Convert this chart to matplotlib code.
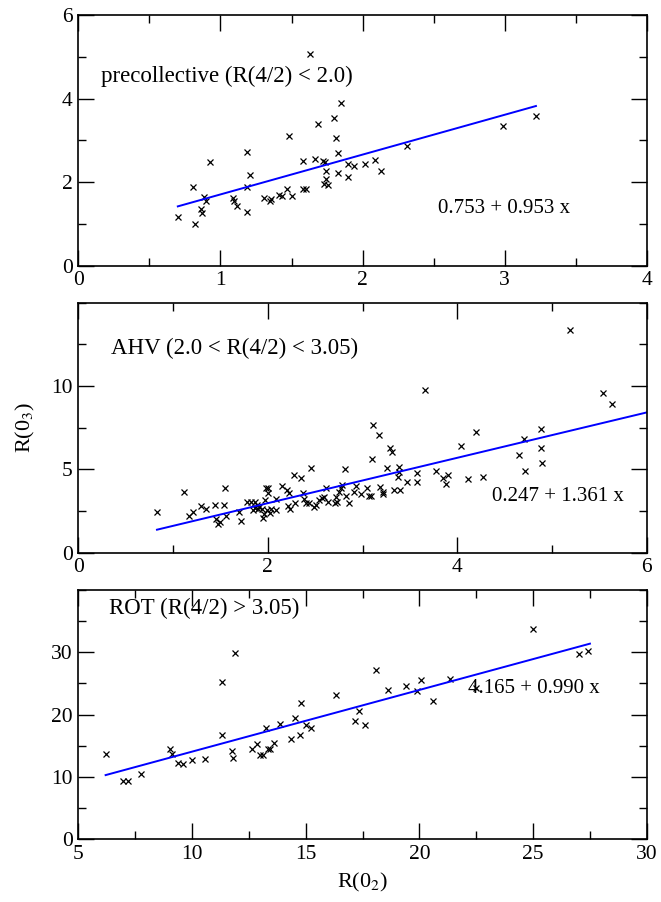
import numpy as np
import matplotlib
matplotlib.use('Agg')
import matplotlib.pyplot as plt
from matplotlib.ticker import MultipleLocator, FixedLocator

plt.rcParams['font.family'] = ['Liberation Serif', 'DejaVu Serif']
plt.rcParams['mathtext.fontset'] = 'stix'

# precollective (R(4/2) < 2.0)
pre_x = [0.698, 0.808, 0.820, 0.86, 0.871, 0.883, 0.90, 0.93, 1.089, 1.096, 1.119,
         1.19, 1.19, 1.19, 1.208, 1.31, 1.347, 1.358, 1.41, 1.43, 1.468, 1.48, 1.50,
         1.58, 1.58, 1.60, 1.628, 1.667, 1.686, 1.72, 1.74, 1.74, 1.733, 1.728, 1.756,
         1.796, 1.815, 1.83, 1.83, 1.85, 1.90, 1.90, 1.937, 2.016, 2.087, 2.13, 2.314,
         2.99, 3.218]
pre_y = [1.17, 1.89, 1.00, 1.35, 1.25, 1.64, 1.54, 2.49, 1.63, 1.54, 1.44,
         2.73, 1.89, 1.28, 2.16, 1.63, 1.56, 1.59, 1.70, 1.68, 1.84, 3.10, 1.66,
         2.51, 1.83, 1.84, 5.07, 2.55, 3.38, 2.50, 2.26, 2.08, 2.48, 1.96, 1.92,
         3.54, 3.06, 2.69, 2.23, 3.90, 2.43, 2.13, 2.39, 2.43, 2.53, 2.26, 2.87,
         3.34, 3.58]

# AHV (2.0 < R(4/2) < 3.05)
ahv_x = [0.828, 1.112, 1.165, 1.207, 1.29, 1.344, 1.446, 1.456, 1.477, 1.50, 1.533,
         1.55, 1.56, 1.70, 1.712, 1.782, 1.825, 1.842, 1.86, 1.867, 1.884, 1.898,
         1.912, 1.94, 1.947, 1.958, 1.975, 1.982, 2.004, 2.007, 1.99, 2.018, 2.035,
         2.088, 2.09, 2.147, 2.20, 2.228, 2.218, 2.235, 2.284, 2.277, 2.35, 2.368,
         2.38, 2.40, 2.43, 2.453, 2.484, 2.51, 2.544, 2.568, 2.593, 2.614, 2.635,
         2.712, 2.723, 2.733, 2.747, 2.768, 2.782, 2.81, 2.825, 2.86, 2.912, 2.93,
         2.982, 3.046, 3.063, 3.088, 3.099, 3.113, 3.177, 3.184, 3.212, 3.219, 3.254,
         3.293, 3.311, 3.336, 3.382, 3.382, 3.378, 3.396, 3.47, 3.572, 3.572, 3.664,
         3.77, 3.848, 3.883, 3.90, 4.035, 4.113, 4.194, 4.272, 4.65, 4.70, 4.714,
         4.883, 4.883, 4.897, 5.187, 5.537, 5.629]
ahv_y = [2.44, 3.64, 2.22, 2.42, 2.80, 2.60, 2.88, 2.02, 1.70, 1.82, 2.88,
         3.90, 2.20, 2.42, 1.88, 3.06, 3.02, 2.58, 3.06, 2.70, 2.88, 2.64,
         2.76, 2.64, 2.08, 2.30, 3.16, 3.88, 3.88, 3.56, 2.56, 2.36, 2.60,
         2.56, 3.24, 4.02, 3.76, 3.56, 2.80, 2.62, 2.96, 4.66, 4.50, 3.56,
         3.20, 3.00, 3.00, 5.10, 2.72, 2.84, 3.16, 3.26, 3.36, 3.86, 3.02,
         3.00, 3.32, 3.04, 3.62, 3.88, 4.06, 5.02, 3.40, 3.00, 3.66, 4.02,
         3.52, 3.90, 3.42, 3.40, 5.64, 7.68, 7.06, 3.96, 3.62, 3.52, 5.10,
         6.26, 6.06, 3.76, 5.16, 4.86, 4.52, 3.76, 4.26, 4.80, 4.24, 9.76,
         4.90, 4.50, 4.12, 4.66, 6.42, 4.40, 7.22, 4.56, 5.86, 6.80, 4.90,
         7.40, 6.30, 5.40, 13.34, 9.60, 8.90]

# ROT (R(4/2) > 3.05)
rot_x = [6.20, 6.98, 7.20, 7.74, 9.01, 9.14, 9.39, 9.61, 10.02, 10.56, 11.33, 11.33,
         11.78, 11.79, 11.91, 12.64, 12.85, 13.01, 13.13, 13.24, 13.35, 13.42, 13.61,
         13.86, 14.37, 14.52, 14.74, 14.79, 15.03, 15.23, 16.32, 17.15, 17.34, 17.60,
         18.09, 18.60, 19.41, 19.90, 20.07, 20.59, 21.33, 22.50, 24.98, 27.03, 27.42]
rot_y = [13.65, 9.42, 9.31, 10.55, 14.51, 13.70, 12.21, 12.15, 12.79, 12.90, 25.16, 16.81,
         14.19, 13.06, 29.87, 14.56, 15.36, 13.54, 13.54, 17.83, 14.56, 14.45, 15.47,
         18.47, 16.17, 19.49, 16.81, 21.84, 18.31, 17.83, 23.23, 19.06, 20.61, 18.31,
         27.19, 23.98, 24.63, 23.72, 25.48, 22.22, 25.75, 24.25, 33.78, 29.66, 30.14]

fit_a = [0.753, 0.247, 4.165]
fit_b = [0.953, 1.361, 0.990]
fit_range = [(0.70, 3.22), (0.83, 6.0), (6.2, 27.5)]

titles = ['precollective (R(4/2) < 2.0)', 'AHV (2.0 < R(4/2) < 3.05)', 'ROT (R(4/2) > 3.05)']
title_pos = [(0.16, 4.54), (0.34, 12.26), (6.35, 37.1)]
eq_pos = [(2.53, 1.38), (4.37, 3.36), (22.15, 24.2)]

xlims = [(0, 4), (0, 6), (5, 30)]
ylims = [(0, 6), (0, 15), (0, 40)]
xmajor = [1, 2, 5]
xminor = [0.5, 1, 2.5]
yticks = [[0, 2, 4, 6], [0, 5, 10], [0, 10, 20, 30]]
yminor = [1, 2.5, 5]

fig = plt.figure(figsize=(6.61, 9.02), dpi=100)
boxes = [[0.1185, 0.7054, 0.860, 0.278],
         [0.1185, 0.3873, 0.860, 0.2772],
         [0.1185, 0.0695, 0.860, 0.2764]]

data = [(pre_x, pre_y), (ahv_x, ahv_y), (rot_x, rot_y)]
for i in range(3):
    ax = fig.add_axes(boxes[i])
    x, y = data[i]
    ax.plot(x, y, 'x', color='black', ms=4.2, mew=0.9)
    xx = np.array(fit_range[i])
    ax.plot(xx, fit_a[i] + fit_b[i] * xx, color='#0000ff', lw=1.4)
    ax.set_xlim(*xlims[i])
    ax.set_ylim(*ylims[i])
    ax.xaxis.set_major_locator(MultipleLocator(xmajor[i]))
    ax.xaxis.set_minor_locator(MultipleLocator(xminor[i]))
    ax.yaxis.set_major_locator(FixedLocator(yticks[i]))
    ax.yaxis.set_minor_locator(MultipleLocator(yminor[i]))
    ax.tick_params(which='both', direction='in', top=True, right=True,
                   labelsize=15.5, width=1.0, pad=4)
    ax.tick_params(which='major', length=11.5)
    ax.tick_params(which='minor', length=5.5)
    for s in ax.spines.values():
        s.set_linewidth(1.2)
    ax.text(title_pos[i][0], title_pos[i][1], titles[i], fontsize=16.5, va='center')
    ax.text(eq_pos[i][0], eq_pos[i][1], f'{fit_a[i]:.3f} + {fit_b[i]:.3f} x',
            fontsize=15, va='center')

fig.text(25 / 661, 1 - 427 / 902, 'R(0$_3$)', rotation=90, fontsize=16,
         ha='center', va='center')
fig.text(362.5 / 661, 1 - 882 / 902, 'R(0$_2$)', fontsize=16,
         ha='center', va='center')

fig.savefig('out.png', dpi=100)
